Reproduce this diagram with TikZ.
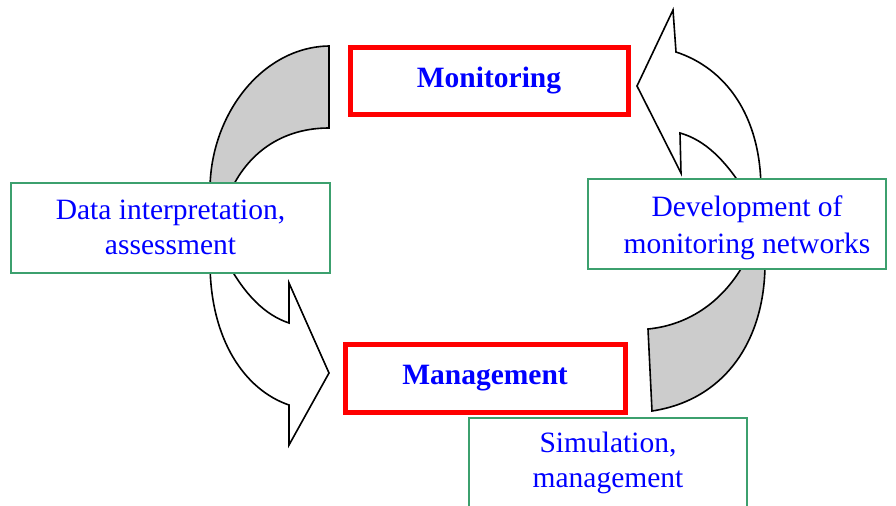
\documentclass[tikz,border=0pt]{standalone}
\usepackage{fontspec}
\setmainfont{Liberation Serif}
\usepackage{tikz}
\usetikzlibrary{positioning}
\definecolor{boxgreen}{RGB}{60,160,110}
\definecolor{arcgray}{RGB}{204,204,204}
\tikzstyle{stage}    = [draw=red, line width=2.5pt, fill=white, inner sep=0pt, text=blue, font=\fontsize{14.75}{17.5}\selectfont\bfseries]
\tikzstyle{task}     = [draw=boxgreen, line width=1pt, fill=white, minimum height=45pt, inner sep=0pt, align=center, text=blue, font=\fontsize{14.75}{17.5}\selectfont]
\tikzstyle{grayarc}  = [draw=black, line width=0.8pt, fill=arcgray]
\tikzstyle{whitearc} = [draw=black, line width=0.8pt, fill=white]

\begin{document}
\begin{tikzpicture}[x=0.5pt,y=-0.5pt]
	\useasboundingbox (0,0) rectangle (896,505);

	% curved block arrows of the cycle (drawn first, boxes go on top)
	\draw[grayarc] (329,46) .. controls (262,47) and (210,115) .. (210,190) -- (231,190) .. controls (250,150) and (285,128) .. (329,128) -- cycle;
	\draw[whitearc] (210,262) .. controls (210,340) and (245,390) .. (289,405) -- (289,445) -- (329,373) -- (289,283) -- (289,323) .. controls (265,315) and (245,295) .. (227,262) -- cycle;
	\draw[whitearc] (676,52) .. controls (725,68) and (761,115) .. (761,190) -- (744,190) .. controls (725,160) and (705,140) .. (680,133) -- (681,173) -- (637,86) -- (673,10) -- cycle;
	\draw[grayarc] (765,260) .. controls (766,340) and (725,400) .. (652,411) -- (648,329) .. controls (690,325) and (725,300) .. (746,260) -- cycle;

	% the two main stages
	\node[stage, minimum width=139pt, minimum height=33.5pt] (monitoring) at (489,80.5) {Monitoring};
	\node[stage, minimum width=140pt, minimum height=34pt] (management) at (485,378) {Management};

	% tasks between the stages
	\node[task, minimum width=159.5pt] (interpret) at (170.5,227.5) {Data interpretation,\\assessment};
	\node[task, minimum width=149pt] (develop) at (737,224) {\\[-3pt]\hspace*{10pt}Development of\\[1pt]\hspace*{10pt}monitoring networks};
	\node[task, minimum width=139pt] (simulate) at (608,462.5) {Simulation,\\management};
\end{tikzpicture}
\end{document}
